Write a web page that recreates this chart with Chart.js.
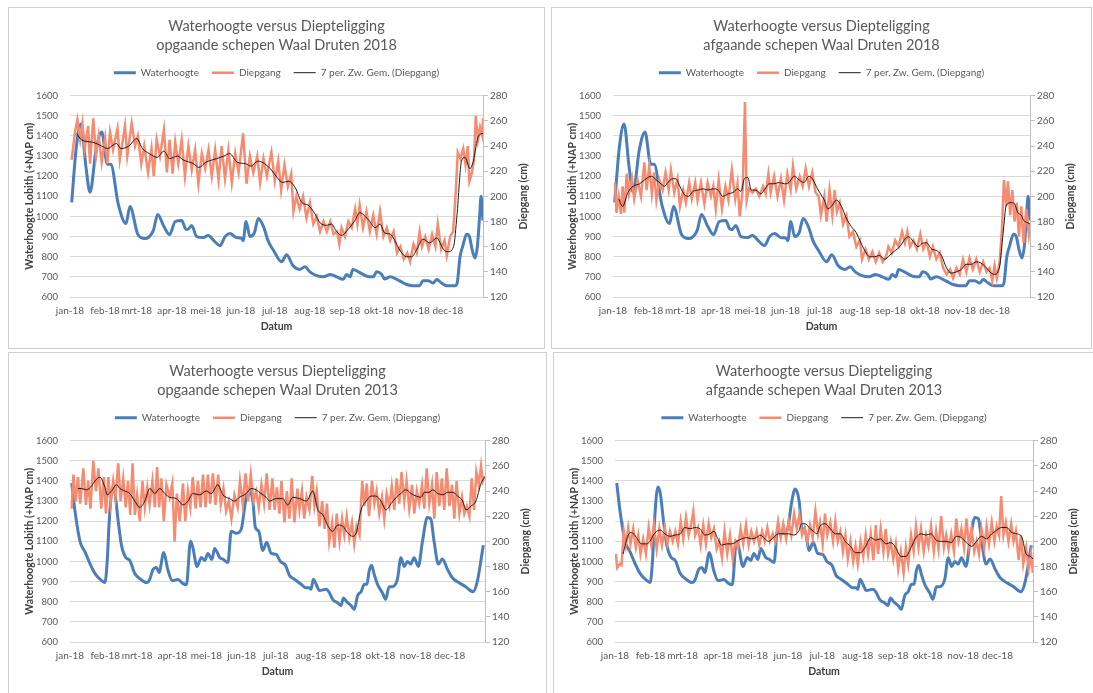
<!DOCTYPE html>
<html>
<head>
<meta charset="utf-8">
<script src="https://cdn.jsdelivr.net/npm/chart.js@4.4.0/dist/chart.umd.min.js"></script>
<style>
  html, body { margin: 0; padding: 0; background: #fff; width: 1093px; height: 693px; overflow: hidden; }
  .box { position: absolute; border: 1px solid #cfcfcf; background: #fff; }
  .box canvas { display: block; }
</style>
</head>
<body>
<div class="box" style="left:8px;top:7px;width:535px;height:340px"><canvas id="op2018" width="535" height="340"></canvas></div>
<div class="box" style="left:551px;top:7px;width:539px;height:340px"><canvas id="af2018" width="539" height="340"></canvas></div>
<div class="box" style="left:8px;top:352px;width:537px;height:360px"><canvas id="op2013" width="537" height="340"></canvas></div>
<div class="box" style="left:553px;top:352px;width:540px;height:360px"><canvas id="af2013" width="540" height="340"></canvas></div>
<script>
// x = day of the year
const monthStarts = [0, 31, 59, 90, 120, 151, 181, 212, 243, 273, 304, 334];
const monthLabels = ['jan-18', 'feb-18', 'mrt-18', 'apr-18', 'mei-18', 'jun-18', 'jul-18', 'aug-18', 'sep-18', 'okt-18', 'nov-18', 'dec-18'];

// Waterhoogte Lobith (+NAP cm)
const waterhoogte2018 = [[1.5,1070],[5.5,1340],[9.7,1460],[14,1250],[17.7,1120],[23,1330],[28,1420],[33,1260],[36,1260],[42.7,1060],[49.5,965],[53,1050],[60,910],[66,890],[73.6,930],[77.5,1010],[83,950],[88,910],[93,975],[98.7,980],[102,940],[104,935],[107.5,955],[112,900],[118,895],[122,905],[128,875],[132.6,855],[137,900],[141.4,915],[147,895],[152,890],[153,880],[155.6,975],[159,900],[163,920],[166.4,990],[171,950],[175,880],[180,830],[187,775],[191.5,810],[197,756],[203,737],[207.6,750],[212,725],[218,706],[224,700],[230,712],[235.7,700],[241.5,688],[244.5,712],[247.5,700],[250,737],[255,725],[259,712],[265,700],[268,700],[271,725],[275.5,712],[278,690],[283,700],[288.7,688],[293,675],[297.6,662],[303.4,656],[309,656],[312,681],[316.7,681],[321,669],[324,687],[328.5,669],[333,656],[340,656],[342,665],[344.7,800],[347,850],[350.6,912],[353,900],[355.6,830],[358,794],[360,850],[362,1000],[363.3,1100],[365,980]];
const waterhoogte2013 = [[1.5,1390],[4.4,1250],[8.8,1100],[13,1050],[17.5,990],[22,940],[27.8,905],[30.7,895],[32.7,1000],[34.5,1200],[37.4,1370],[39.5,1340],[42.4,1200],[45.3,1080],[49,1020],[52.6,1005],[57,940],[61.4,915],[67.3,895],[70,910],[73,960],[76,970],[78.3,945],[82.5,1045],[86,960],[90,905],[95,910],[99.4,890],[102.4,885],[106,1100],[108,1070],[111.7,975],[115.5,1020],[118.4,1005],[121.3,1040],[124.8,1010],[127.2,1065],[131.6,1020],[135,1010],[138.9,995],[141.8,1150],[146.2,1140],[150.6,1160],[154.4,1300],[157.3,1360],[160.8,1300],[163,1170],[166,1150],[169.6,1055],[173,1095],[177,1040],[181.3,1035],[185,1000],[189.5,981],[193,931],[197.4,912],[203.3,887],[207.6,869],[210.5,869],[212,862],[214,912],[216.5,887],[219.4,856],[225.3,862],[228.2,844],[231,812],[235.5,794],[238.4,781],[240.5,819],[243.4,800],[247.2,781],[250,762],[253,831],[256,850],[259,887],[261.2,887],[263,950],[265.2,981],[267.5,937],[270.4,887],[274.8,844],[277.7,812],[280.6,875],[283.5,875],[288,912],[291,1019],[294,975],[296.8,1000],[299.7,987],[302.6,1019],[306.4,975],[310,1100],[314.3,1219],[317.3,1212],[320.2,1100],[324,987],[327.5,1012],[331.9,962],[336.3,919],[342.2,894],[348,875],[354.4,850],[358.2,900],[363.5,1081]];

// Diepgang (cm), opgaande schepen 2018
const diepgangOp2018 = [[1.5,229],[4.4,251],[6.5,261],[9,245],[11,258],[13,238],[16,256],[17.7,226],[20.6,262],[23,232],[25.4,248],[28,227],[31,246],[33,226],[35.4,251],[38,237],[42,254],[44,229],[48.6,256],[50.6,232],[54.5,258],[57.5,240],[60,248],[63,226],[65.6,240],[69,219],[72,238],[74,216],[76.6,245],[79.5,232],[83,253],[85.6,219],[88,245],[90.7,218],[93,243],[95.7,226],[98.7,245],[101.6,216],[104.6,240],[107.6,221],[110.6,237],[113.5,210],[116.5,234],[119.5,222],[122.4,237],[125.3,216],[128.3,237],[131.3,213],[134,240],[137,214],[140,237],[143,211],[146,234],[149,219],[153,250],[156,210],[159,232],[162,219],[165.5,232],[168,211],[171,230],[174,216],[176,226],[178,235],[181,212],[184,228],[186.6,205],[189.5,225],[192.5,208],[195.5,218],[197.5,188],[200,200],[203,190],[206,200],[209,183],[212,195],[215,178],[218,184],[221,172],[224,180],[227,172],[230,180],[233,170],[236,172],[238,162],[240,175],[243,168],[246,180],[249,175],[252,190],[254,178],[256,193],[259,175],[262,188],[265,172],[268,185],[271,170],[274,188],[277,168],[280,175],[283,165],[286,172],[289,155],[292,160],[295,150],[298,155],[300.6,148],[303.6,162],[306.5,155],[309,172],[311,160],[314,168],[317,158],[320,170],[323,160],[325,178],[328,158],[331,165],[333,153],[336,168],[338.6,172],[340.7,200],[342.7,235],[345,230],[347.5,238],[349.6,225],[351.6,240],[353,212],[355,218],[357,228],[358.6,264],[360.6,245],[362.4,255],[364.5,248],[365,262]];
const gemOp2018 = [[6,250],[10,245],[20,243],[28,240],[33,238],[41,242],[45,238],[52,240],[59,246],[64,238],[70,234],[77,231],[83,236],[88,230],[95,232],[100,229],[109,226],[114,223],[120,227],[129.6,230],[136,232],[141,234],[148,227],[155,226],[160,224],[166,228],[172,226],[177,222],[183,215],[188,211],[193,212],[199,207],[205,195],[210.5,193],[216.5,186],[221,179],[227,177],[231,178],[235.7,172],[240,169],[246,174],[252,181],[256,187],[261,184],[265,180],[269.6,175],[274,178],[278,171],[283,170],[287,165],[291.6,157],[297.6,152],[302,152],[306,157],[312,166],[318,163],[324,167],[330,158],[334,156],[339,160],[342,185],[346,228],[349,231],[353.5,222],[356.4,228],[361,248],[365,250]];

// Diepgang (cm), afgaande schepen 2018
const diepgangAf2018 = [[1.7,211],[3,187],[5,200],[7,186],[8.4,208],[9.9,187],[12,218],[14,202],[16.6,214],[18.6,198],[21.5,213],[24.5,200],[27.4,227],[29.4,205],[31.7,224],[34,202],[36,219],[38,197],[40.6,213],[43.5,205],[46,219],[48.7,205],[50.7,221],[53.6,203],[56.5,214],[58.6,192],[61.5,205],[63.8,195],[66.7,211],[69,198],[72,211],[74,197],[77,211],[80,194],[82.8,211],[85.7,200],[87.8,208],[90,190],[92.5,213],[95.4,190],[98.4,208],[101,197],[104,221],[107,198],[109,210],[111,184],[113.5,205],[115.5,275],[117,197],[119,206],[122,203],[125,206],[128,200],[131.4,208],[133.7,202],[136,218],[138,203],[141,216],[144,200],[147,214],[149.7,197],[152.6,218],[155.5,205],[157.5,224],[160.4,206],[163.4,216],[166,208],[168.6,222],[171.5,208],[174.4,219],[177.3,203],[180,200],[182,185],[185,200],[187,180],[189.5,205],[192,185],[194,205],[196,188],[198.5,195],[201.4,178],[204.3,185],[207,168],[210,172],[213,160],[216,165],[218,150],[221,158],[224,150],[227,156],[230,148],[233,155],[236,148],[239,152],[241,160],[244,155],[247,165],[250,160],[253,172],[255.5,163],[257.6,172],[260,160],[263,165],[266,158],[269,170],[271.6,158],[274.5,164],[277.4,152],[280,160],[283,150],[286,155],[289,143],[292,138],[295,142],[297.7,135],[300.6,143],[303.5,138],[306.4,150],[309.3,140],[312,151],[315,142],[318,150],[321,140],[324,148],[327,140],[329.6,143],[332,133],[334,145],[336,135],[338.5,148],[340.5,175],[342.2,213],[344.3,192],[345.7,212],[347.7,185],[349.5,205],[351.5,180],[353.5,195],[355.3,168],[357.4,192],[359.4,163],[361.7,190],[364,170],[365,178]];
const gemAf2018 = [[5,198],[8.4,192],[13,203],[17.5,208],[23.3,210],[29,214],[33.5,216],[38,213],[42,210],[45,208],[48,211],[52.4,214],[55,214],[58.5,208],[62.8,201],[66,200],[70,204],[74.5,205],[79,206],[83,205],[87.6,206],[92,205],[96,200],[100.7,202],[105,203],[109,206],[112,204],[115,214],[118,215],[121,205],[125,205],[129.5,202],[132.4,205],[136.8,210],[141,210],[145.5,211],[150,210],[154,211],[158.5,216],[163,213],[167,211],[171.5,216],[174.5,214],[179,206],[183,200],[185,197],[188,190],[192,193],[195.5,197],[200,192],[204,183],[208.6,176],[213,171],[217,163],[221.6,155],[224.5,152],[229,152],[233,153],[238,150],[242,153],[247,157],[251,160],[255.5,166],[258.5,168],[263,164],[267,160],[271.6,163],[274.5,163],[279,158],[283,157],[287.5,153],[292,143],[296,139],[300.6,140],[305,142],[309,146],[313.6,146],[318,148],[322,147],[327,143],[331,139],[334,138],[338.5,145],[341.4,170],[344.3,193],[348.6,195],[351.5,194],[354.4,187],[357.4,185],[359.4,181],[363,179],[365,178]];

// Diepgang (cm), opgaande schepen 2013
const diepgangOp2013 = [[1.5,226],[3,253],[5,232],[7,251],[9,230],[11.7,258],[14,229],[16,248],[18,226],[20.5,264],[22.8,240],[25,258],[27.5,226],[29.8,251],[31.6,222],[33.7,251],[35.7,230],[38,248],[40,235],[42.4,262],[44.5,232],[46.8,250],[49,227],[51,248],[53,221],[55,262],[57,221],[59,237],[61.4,216],[63.7,248],[65.8,227],[68,243],[70,229],[72.5,248],[74.6,227],[76.6,259],[78.4,227],[80.4,250],[82.5,216],[84.8,245],[87.7,235],[90,246],[92,200],[94,238],[96.5,216],[99.4,246],[101.4,216],[103.7,240],[105.8,227],[108,251],[110.5,226],[112.5,248],[114.8,227],[117,253],[119.2,227],[121.3,253],[123.3,230],[125.7,254],[128,229],[130.3,253],[132.6,229],[135,242],[137.3,224],[139.7,232],[142,218],[144.6,237],[147.5,227],[149.5,248],[152,229],[154.4,254],[156.7,232],[159,253],[161.4,232],[163.7,240],[166,227],[168.4,245],[170.7,230],[173,254],[175.5,225],[178,250],[180,225],[182,243],[184.2,222],[186,248],[188.6,215],[190.7,240],[193,218],[195,250],[197.4,215],[200,242],[201.8,225],[204,240],[206,218],[208,235],[210.6,225],[213,252],[215,228],[217,240],[219.4,212],[221.8,232],[224,210],[226,230],[228,200],[230.5,215],[232.5,195],[234.6,222],[237,200],[239.3,218],[241.3,205],[243.4,220],[245.7,203],[248,215],[250,198],[252,212],[254.6,205],[257,248],[259,228],[261,246],[263,220],[265.6,248],[267.7,230],[269.7,240],[272,222],[274.4,235],[276.4,218],[278.5,238],[281,228],[283,244],[285.2,225],[287.3,250],[289.6,230],[291.6,255],[294,232],[296,248],[298.4,226],[300.8,245],[302.8,222],[305,240],[307.2,230],[309.6,245],[311.6,226],[313.7,258],[316,230],[318.4,245],[320.4,218],[322.5,255],[324.8,228],[327,250],[329.2,225],[331.3,258],[333.7,228],[336,245],[338,218],[340,248],[342.5,222],[344.8,235],[346.8,222],[349,228],[351.3,220],[353.3,250],[355.4,225],[357.4,255],[359.5,245],[361.5,260],[363,248],[364.5,252]];
const gemOp2013 = [[7,242],[10,242],[14.6,241],[19,244],[22,248],[26.3,251],[30.7,243],[32.7,237],[36.5,240],[40.9,245],[43.9,242],[48.3,240],[52.6,238],[57,232],[61.4,227],[65.8,232],[70.2,242],[74.6,238],[79,242],[83.4,238],[87.7,235],[93.6,234],[99.4,229],[103.8,232],[108,238],[114,237],[119.8,240],[124.2,238],[130,245],[134.4,237],[140.3,234],[144.7,232],[149,235],[155,238],[159.3,242],[163.7,241],[168,238],[172.5,235],[175.5,232],[181.3,234],[187,234],[191.5,229],[196,235],[202,234],[208,232],[213.5,240],[218,225],[222.4,221],[227,212],[231,208],[235.5,213],[240,212],[244,207],[248.6,204],[251.5,206],[256,225],[260.5,232],[265,236],[269,236],[273.5,232],[278,225],[282.4,230],[287,235],[291,238],[295.5,241],[300,238],[304.4,236],[308.8,235],[311.6,239],[316,239],[319,241],[323.4,238],[328,237],[332,239],[336.5,239],[341,236],[345.4,232],[348.3,225],[352.7,228],[357,232],[361.5,246],[364.5,251]];

// Diepgang (cm), afgaande schepen 2013
const diepgangAf2013 = [[0.7,190],[1.9,179],[4.2,182],[5.7,181],[7.7,208],[9.5,197],[11.5,211],[13.5,198],[15.9,210],[18.2,195],[20.3,205],[22.3,190],[24.6,202],[27,190],[29.4,211],[31.7,197],[34,213],[36.4,194],[38.7,210],[41,197],[43.4,211],[45.7,198],[48,208],[50.4,200],[52.7,208],[55,198],[57.3,216],[59.6,202],[62,219],[64.3,205],[66.6,214],[68.4,224],[70,205],[72.5,211],[74.8,197],[77.1,213],[79.4,198],[81.8,214],[84,203],[86.4,210],[88.8,194],[91.1,200],[93.4,187],[95.7,208],[98,190],[100.4,205],[102.8,186],[105.1,200],[107.4,195],[109.7,210],[112,198],[114.4,213],[116.7,197],[119,208],[121.4,200],[123.7,208],[126,197],[128.4,208],[130.7,200],[133,211],[135.3,200],[137.7,206],[140,200],[142.4,216],[144.7,203],[147,214],[149.4,202],[151.7,216],[154,205],[156.4,222],[158.7,210],[161,221],[163.3,205],[165.7,211],[168,200],[170.3,213],[172.6,203],[175,224],[177.3,206],[179,215],[181.3,198],[183.4,222],[185.4,205],[188,215],[190.4,200],[192.4,216],[194.5,200],[196.8,208],[199,192],[201.2,205],[203.3,186],[205.6,200],[208,184],[210,196],[212,182],[214.4,200],[216.8,188],[218.9,205],[221,190],[223.3,206],[225.6,185],[227.7,213],[229.7,190],[232,210],[234.4,192],[236.4,210],[238.5,190],[240.8,200],[243,186],[245.2,198],[247.3,178],[249.6,192],[252,175],[254,195],[256,182],[258.5,205],[260.8,192],[262.8,212],[265,195],[267.2,210],[269.6,192],[271.6,205],[273.7,196],[276,212],[278.4,192],[280.4,208],[282.5,194],[284.8,220],[287.2,195],[289.2,205],[291.3,194],[293.6,206],[296,192],[298,218],[300,200],[302.5,210],[304.8,195],[306.9,218],[309,196],[311.3,210],[313.7,192],[315.7,200],[317.8,190],[320,210],[322.5,195],[324.5,212],[326.6,198],[329,215],[331.3,200],[333.3,212],[335.4,205],[337.2,236],[339.2,205],[341.3,215],[343.6,200],[346,214],[348,200],[350,208],[352.5,185],[354.5,205],[356.5,182],[359,195],[361.2,178],[363.3,190],[364.8,175]];
const gemAf2013 = [[7,190],[11.5,205],[14.4,207],[18.8,203],[23,198],[27.6,198],[30.5,200],[33.5,205],[36.4,208],[39.3,209],[43.6,206],[48,204],[52.4,205],[57,206],[61,211],[65.5,210],[70,211],[74.2,210],[78.6,205],[83,206],[86.4,208],[89.4,203],[93,197],[97.5,198],[101.9,198],[106.3,200],[110.7,202],[115,203],[119.4,202],[123.7,203],[126.6,205],[131,202],[134,200],[138.4,203],[142.8,206],[147,206],[151.6,206],[156,205],[160.4,208],[163,214],[166,214],[170.5,210],[173.4,208],[176.3,206],[179,212],[183.4,214],[188,210],[192.4,206],[196.8,206],[201,200],[205.6,196],[210,191],[214.4,191],[218.9,196],[223.3,203],[227.7,201],[232,202],[236.4,198],[240.8,199],[245.2,195],[249.6,188],[254,188],[258.5,195],[262.8,203],[267.2,206],[271.6,205],[276,206],[280.4,201],[284.8,200],[289.2,200],[293.6,199],[298,204],[302.5,203],[306.9,199],[311.3,196],[315.7,200],[320,204],[324.5,202],[329,206],[333.3,209],[337.7,211],[342,211],[346.5,207],[351,206],[355.4,203],[359,190],[363,188],[364.8,186]];

Chart.defaults.font.family = 'Lato, "Open Sans", sans-serif';
Chart.defaults.color = '#595959';

const grey = '#595959';
const titleGrey = '#404040';
const axisTitleFont = { size: 10.5, weight: 'bold' };

// push the plot area a little below the legend
const legendSpacer = {
  id: 'legendSpacer',
  afterInit(chart) {
    const fit = chart.legend.fit;
    chart.legend.fit = function () {
      fit.call(this);
      this.height += 8;
    };
  }
};

// Excel writes the secondary axis title bottom-to-top, Chart.js would turn it the other way
const rightAxisTitle = {
  id: 'rightAxisTitle',
  afterDraw(chart) {
    const { ctx, chartArea, scales } = chart;
    ctx.save();
    ctx.translate(scales.y1.right - 20, (chartArea.top + chartArea.bottom) / 2);
    ctx.rotate(-Math.PI / 2);
    ctx.fillStyle = titleGrey;
    ctx.font = 'bold 10.5px Lato, "Open Sans", sans-serif';
    ctx.textAlign = 'center';
    ctx.textBaseline = 'middle';
    ctx.fillText('Diepgang (cm)', 0, 0);
    ctx.restore();
  }
};

function makeChart(id, subtitle, water, diepgang, gem) {
  new Chart(document.getElementById(id), {
    type: 'line',
    data: {
      datasets: [
        {
          label: 'Waterhoogte',
          data: water,
          yAxisID: 'y',
          borderColor: '#4A7EBB',
          borderWidth: 3,
          pointRadius: 0,
          cubicInterpolationMode: 'monotone',
          order: 3
        },
        {
          label: 'Diepgang',
          data: diepgang,
          yAxisID: 'y1',
          borderColor: '#F58B70',
          borderWidth: 2.5,
          pointRadius: 0,
          tension: 0,
          order: 2
        },
        {
          label: '7 per. Zw. Gem. (Diepgang)',
          data: gem,
          yAxisID: 'y1',
          borderColor: '#1c1c1c',
          borderWidth: 1,
          pointRadius: 0,
          cubicInterpolationMode: 'monotone',
          order: 1
        }
      ]
    },
    options: {
      responsive: false,
      animation: false,
      layout: { padding: 0 },
      plugins: {
        title: {
          display: true,
          text: ['Waterhoogte versus Diepteligging', subtitle],
          color: grey,
          font: { size: 14.5, weight: 'normal', lineHeight: 1.3 },
          padding: { top: 9, bottom: 0 }
        },
        legend: {
          labels: {
            usePointStyle: true,
            pointStyle: 'line',
            pointStyleWidth: 22,
            boxHeight: 10,
            padding: 13,
            color: grey,
            font: { size: 10 },
            sort: (a, b) => a.datasetIndex - b.datasetIndex
          }
        },
        tooltip: { enabled: false }
      },
      scales: {
        x: {
          type: 'linear',
          min: 0,
          max: 365,
          grid: { display: false, drawTicks: false },
          border: { display: false },
          afterBuildTicks: (scale) => {
            scale.ticks = monthStarts.map(v => ({ value: v }));
          },
          afterFit: (scale) => { scale.height = 51; },
          ticks: {
            autoSkip: false,
            maxRotation: 0,
            minRotation: 0,
            padding: 8,
            color: grey,
            font: { size: 10 },
            callback: (v) => monthLabels[monthStarts.indexOf(v)]
          },
          title: {
            display: true,
            text: 'Datum',
            color: titleGrey,
            font: axisTitleFont,
            padding: { top: 0, bottom: 15 }
          }
        },
        y: {
          position: 'left',
          min: 600,
          max: 1600,
          grid: { color: '#d9d9d9', drawTicks: false },
          border: { display: false },
          afterFit: (scale) => { scale.width = 61; },
          ticks: { stepSize: 100, padding: 12, color: grey, font: { size: 9.5 }, callback: (v) => String(v) },
          title: {
            display: true,
            text: 'Waterhoogte Lobith (+NAP cm)',
            color: titleGrey,
            font: axisTitleFont,
            padding: { top: 14, bottom: 0 }
          }
        },
        y1: {
          position: 'right',
          min: 120,
          max: 280,
          grid: { drawOnChartArea: false, drawTicks: true, tickLength: 5, color: '#bfbfbf' },
          border: { display: true, color: '#bfbfbf' },
          afterFit: (scale) => { scale.width = 61; },
          ticks: { stepSize: 20, padding: 2, color: grey, font: { size: 10 }, callback: (v) => String(v) }
        }
      }
    },
    plugins: [legendSpacer, rightAxisTitle]
  });
}

makeChart('op2018', 'opgaande schepen Waal Druten 2018', waterhoogte2018, diepgangOp2018, gemOp2018);
makeChart('af2018', 'afgaande schepen Waal Druten 2018', waterhoogte2018, diepgangAf2018, gemAf2018);
makeChart('op2013', 'opgaande schepen Waal Druten 2013', waterhoogte2013, diepgangOp2013, gemOp2013);
makeChart('af2013', 'afgaande schepen Waal Druten 2013', waterhoogte2013, diepgangAf2013, gemAf2013);
</script>
</body>
</html>
